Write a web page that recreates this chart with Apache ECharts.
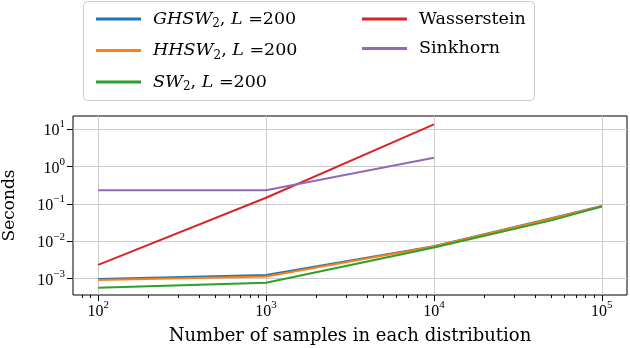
<!DOCTYPE html>
<html>
<head>
<meta charset="utf-8">
<script src="https://cdn.jsdelivr.net/npm/echarts@6/dist/echarts.min.js"></script>
</head>
<body style="margin:0">
<div id="main" style="width:630px;height:348px;"></div>
<script>
// timings (seconds)
var samples = [100, 1000, 10000, 50000, 100000];
var ghsw = [0.00098, 0.00125, 0.0073, 0.041, 0.087];
var hhsw = [0.00091, 0.00113, 0.0072, 0.040, 0.086];
var sw = [0.00057, 0.00077, 0.0068, 0.036, 0.084];
var exactSamples = [100, 1000, 10000];
var wasserstein = [0.00233, 0.145, 13.4];
var sinkhorn = [0.229, 0.23, 1.7];
var xTicks = [100, 1000, 10000, 100000];
var yTicks = [0.001, 0.01, 0.1, 1, 10];

var colors = ['#1f77b4', '#ff7f0e', '#2ca02c', '#d62728', '#9467bd'];
var serif = 'DejaVu Serif';
var tickFont = 'Liberation Serif';

function pairs(xs, ys) {
    return xs.map(function (x, i) { return [x, ys[i]]; });
}

// minor ticks 2..9 x 10^k
var minorTicks = [];
for (var d = 1; d <= 5; d++) {
    for (var k = 2; k <= 9; k++) minorTicks.push(k * Math.pow(10, d));
}

function powLabel(v) {
    var e = Math.round(Math.log10(v));
    return '{b|10}{s|' + String(e).replace('-', '\u2212') + '}';
}
var powRich = {
    b: { fontFamily: tickFont, fontSize: 16, color: '#000', lineHeight: 20, verticalAlign: 'bottom' },
    s: { fontFamily: tickFont, fontSize: 11, color: '#000', lineHeight: 12, verticalAlign: 'top' }
};

var legendNames = {
    'GHSW': '{i|GHSW}{sub|2}{n|, }{i|L}{n| =200}',
    'HHSW': '{i|HHSW}{sub|2}{n|, }{i|L}{n| =200}',
    'SW': '{i|SW}{sub|2}{n|, }{i|L}{n| =200}',
    'Wasserstein': '{n|Wasserstein}',
    'Sinkhorn': '{n|Sinkhorn}'
};
var legendRich = {
    i: { fontFamily: serif, fontStyle: 'italic', fontSize: 17.5, color: '#000', lineHeight: 22 },
    n: { fontFamily: serif, fontSize: 17.5, color: '#000', lineHeight: 22 },
    sub: { fontFamily: serif, fontSize: 12, color: '#000', lineHeight: 12, verticalAlign: 'bottom' }
};
function legendBlock(names, left) {
    return {
        data: names,
        orient: 'vertical',
        left: left,
        top: 5,
        itemWidth: 45,
        itemHeight: 3,
        itemGap: 11.5,
        icon: 'rect',
        z: 10,
        formatter: function (n) { return legendNames[n]; },
        textStyle: { padding: [0, 0, 0, 7], rich: legendRich }
    };
}

var chart = echarts.init(document.getElementById('main'), null, { renderer: 'canvas' });

var option = {
    animation: false,
    color: colors,
    grid: {
        left: 73, right: 3, top: 116, bottom: 53,
        outerBoundsMode: 'none',
        containLabel: false,
        show: true, borderColor: '#000', borderWidth: 1
    },
    legend: [
        legendBlock(['GHSW', 'HHSW', 'SW'], 91),
        legendBlock(['Wasserstein', 'Sinkhorn'], 357)
    ],
    graphic: [{
        type: 'rect',
        z: 0,
        shape: { x: 83.5, y: 1.5, width: 451, height: 99, r: 4 },
        style: { fill: 'rgba(255,255,255,0.8)', stroke: '#cccccc', lineWidth: 1 }
    }],
    xAxis: [{
        type: 'log',
        logBase: 10,
        min: Math.pow(10, 1.85),
        max: Math.pow(10, 5.15),
        name: 'Number of samples in each distribution',
        nameLocation: 'middle',
        nameGap: 32,
        nameTextStyle: { fontFamily: serif, fontSize: 18, color: '#000' },
        axisLine: { show: false },
        axisTick: { customValues: xTicks, length: 6, lineStyle: { color: '#000' } },
        axisLabel: { customValues: xTicks, formatter: powLabel, rich: powRich, margin: 5 },
        splitLine: { show: true, lineStyle: { color: '#cccccc', width: 1 } }
    }, {
        type: 'log',
        logBase: 10,
        gridIndex: 0,
        position: 'bottom',
        min: Math.pow(10, 1.85),
        max: Math.pow(10, 5.15),
        axisLine: { show: false },
        axisTick: { customValues: minorTicks, length: 3, lineStyle: { color: '#000' } },
        axisLabel: { show: false },
        splitLine: { show: false }
    }],
    yAxis: {
        type: 'log',
        logBase: 10,
        min: Math.pow(10, -3.44),
        max: Math.pow(10, 1.35),
        name: 'Seconds',
        nameLocation: 'middle',
        nameGap: 55,
        nameTextStyle: { fontFamily: serif, fontSize: 17, color: '#000' },
        axisLine: { show: false },
        axisTick: { customValues: yTicks, length: 6, lineStyle: { color: '#000' } },
        axisLabel: { customValues: yTicks, formatter: powLabel, rich: powRich, margin: 8 },
        splitLine: { show: true, lineStyle: { color: '#cccccc', width: 1 } }
    },
    series: [
        { name: 'GHSW', type: 'line', data: pairs(samples, ghsw) },
        { name: 'HHSW', type: 'line', data: pairs(samples, hhsw) },
        { name: 'SW', type: 'line', data: pairs(samples, sw) },
        { name: 'Wasserstein', type: 'line', data: pairs(exactSamples, wasserstein) },
        { name: 'Sinkhorn', type: 'line', data: pairs(exactSamples, sinkhorn) }
    ].map(function (s) {
        s.showSymbol = false;
        s.symbol = 'none';
        s.lineStyle = { width: 2 };
        return s;
    })
};

chart.setOption(option);
</script>
</body>
</html>
